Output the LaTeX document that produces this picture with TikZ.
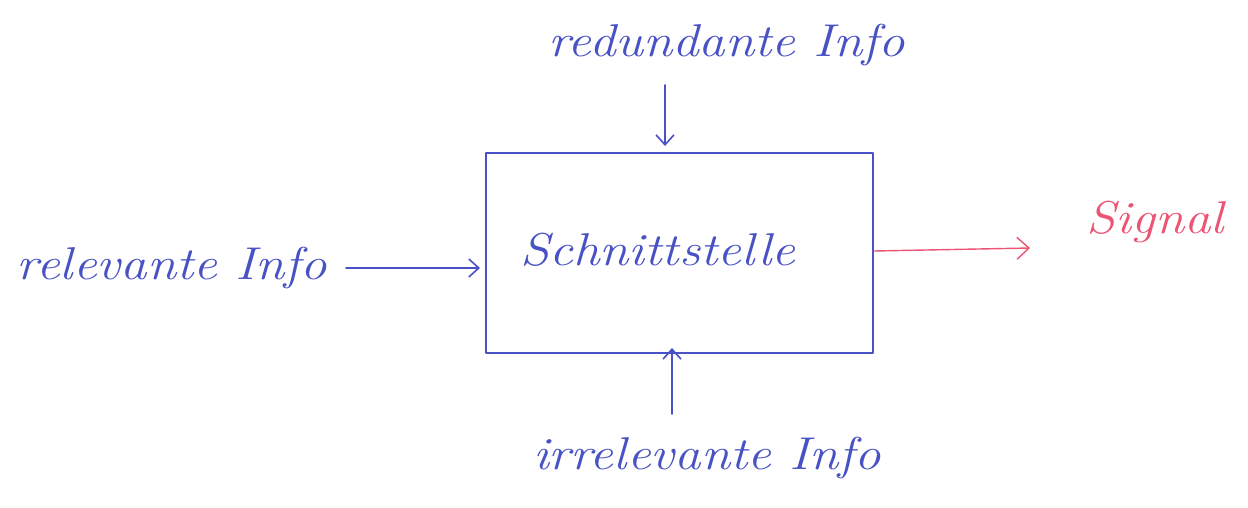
\documentclass[tikz,border=0pt]{standalone}
\usetikzlibrary{arrows.meta}
\definecolor{penblue}{RGB}{72,82,196}
\definecolor{penred}{RGB}{236,84,116}
\newcommand{\wide}[1]{\scalebox{1.15}[1]{#1}}
\begin{document}
\begin{tikzpicture}[x=1pt,y=-1pt,
  ink/.style={draw=penblue,line width=1.6pt,line cap=round,line join=round},
  lbl/.style={text=penblue,font=\fontsize{46}{50}\selectfont\itshape,inner sep=0pt},
  arr/.style={ink,-{Straight Barb[length=10pt,width=18pt,line width=1.6pt]}},
  redarr/.style={draw=penred,line width=1.4pt,line cap=round,-{Straight Barb[length=12pt,width=22pt,line width=1.4pt]}}]
\useasboundingbox (0,0) rectangle (1248,507);
\node[ink,minimum width=387pt,minimum height=200pt,inner sep=0pt,anchor=north west] (box) at (485,152) {};
\node[lbl] (schnitt) at (658,250) {\wide{Schnittstelle}};
\node[lbl] (red) at (727,45) {\wide{redundante Info}};
\node[lbl] (rel) at (172,268) {\wide{relevante Info}};
\node[lbl] (irr) at (707,458) {\wide{irrelevante Info}};
\node[lbl,text=penred] (sig) at (1155,222) {\wide{Signal}};
\coordinate (redtop) at (665,85);
\coordinate (irrbot) at (672,414);
\coordinate (relend) at (346,268);
\coordinate (sigstart) at (874,251);
\coordinate (sigend) at (1030,248);
\draw[arr] (redtop) -- (665,146);
\draw[arr] (irrbot) -- (672,348);
\draw[arr] (relend) -- (480,268);
\draw[redarr] (sigstart) -- (sigend);
\end{tikzpicture}
\end{document}
